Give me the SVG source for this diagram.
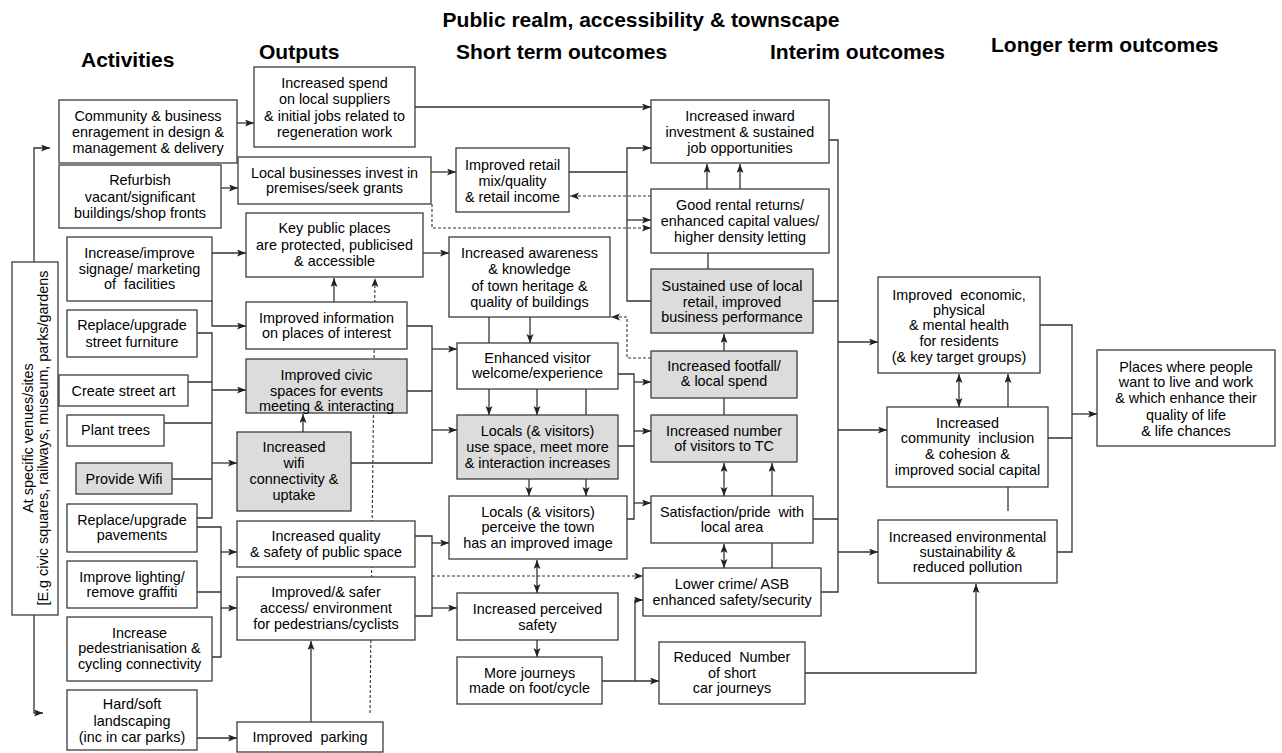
<svg xmlns="http://www.w3.org/2000/svg" width="1282" height="753" viewBox="0 0 1282 753">
<style>
  .bx{fill:#fff;stroke:#3c3c3c;stroke-width:1.3}
  .gr{fill:#dcdcdc;stroke:#3c3c3c;stroke-width:1.3}
  .t{font-family:"Liberation Sans",Arial,sans-serif;font-size:14.4px;text-anchor:middle;fill:#000}
  .h{font-family:"Liberation Sans",Arial,sans-serif;font-size:21px;font-weight:bold;fill:#000}
  .c{fill:none;stroke:#333;stroke-width:1.3}
  .a{marker-end:url(#ah)}
  .d2{marker-start:url(#ah);marker-end:url(#ah)}
  .ds{stroke-dasharray:3 2;stroke-width:1.1}
</style>
<defs>
  <marker id="ah" markerUnits="userSpaceOnUse" markerWidth="10" markerHeight="8" refX="9" refY="3.5" orient="auto-start-reverse">
    <path d="M0,0 L9,3.5 L0,7 L2,3.5 z" fill="#222"/>
  </marker>
</defs>
<rect width="1282" height="753" fill="#fff"/>

<!-- column headings -->
<g id="headings">
  <text class="h" x="641" y="27" text-anchor="middle">Public realm, accessibility &amp; townscape</text>
  <text class="h" x="81" y="67">Activities</text>
  <text class="h" x="259" y="59">Outputs</text>
  <text class="h" x="456" y="59">Short term outcomes</text>
  <text class="h" x="770" y="59">Interim outcomes</text>
  <text class="h" x="991" y="52">Longer term outcomes</text>
</g>

<!-- connectors -->
<g id="connectors">
  <!-- venue bracket -->
  <path class="c a" d="M34,262 V148 H50"/>
  <path class="c a" d="M34,615 V713 H43"/>
  <!-- activities to outputs -->
  <path class="c a" d="M237,123 H254"/>
  <path class="c a" d="M221,188 H238"/>
  <path class="c a" d="M212,253 H246"/>
  <path class="c a" d="M212,301 V326 H246"/>
  <path class="c" d="M197,333 H212 V518 H197"/>
  <path class="c" d="M188,382 H212 M164,423 H212 M172,479 H212"/>
  <path class="c a" d="M212,390 H246"/>
  <path class="c a" d="M212,463 H237"/>
  <path class="c" d="M197,527 H221 V657 H212 M197,592 H221"/>
  <path class="c a" d="M221,552 H237"/>
  <path class="c a" d="M221,608 H237"/>
  <path class="c a" d="M197,738 H237"/>
  <!-- within outputs -->
  <path class="c ds a" d="M370,713 L375,278"/>
  <path class="c a" d="M334,302 V278"/>
  <path class="c a" d="M303,432 V414"/>
  <path class="c a" d="M311,722 V641"/>
  <!-- outputs to short term / interim -->
  <path class="c a" d="M415,107 H651"/>
  <path class="c a" d="M431,172 H456"/>
  <path class="c ds a" d="M432,204 V228 H651"/>
  <path class="c a" d="M423,253 H449"/>
  <path class="c" d="M407,326 H432 V463 H351 M407,391 H432"/>
  <path class="c a" d="M432,349 H457"/>
  <path class="c a" d="M432,430 H457"/>
  <path class="c" d="M415,536 H432 V616 H415"/>
  <path class="c a" d="M432,543 H449"/>
  <path class="c a" d="M432,608 H457"/>
  <path class="c ds a" d="M432,576 H643"/>
  <!-- within short term -->
  <path class="c a" d="M530,317 V343"/>
  <path class="c" d="M489,317 V343"/>
  <path class="c a" d="M489,389 V415"/>
  <path class="c a" d="M537,389 V415"/>
  <path class="c" d="M586,389 V415"/>
  <path class="c a" d="M529,479 V496"/>
  <path class="c a" d="M586,479 V496"/>
  <path class="c d2" d="M537,560 V593"/>
  <path class="c a" d="M537,640 V657"/>
  <!-- short term to interim -->
  <path class="c" d="M569,172 H627"/>
  <path class="c a" d="M651,301 H627 V148 H651"/>
  <path class="c a" d="M627,220 H651"/>
  <path class="c ds a" d="M651,196 H570"/>
  <path class="c ds a" d="M651,358 H627 V317 H611"/>
  <path class="c" d="M618,374 H634 V519 H627 M618,446 H634"/>
  <path class="c a" d="M634,382 H651"/>
  <path class="c a" d="M634,431 H651"/>
  <path class="c a" d="M634,503 H651"/>
  <path class="c a" d="M602,681 H659"/>
  <path class="c a" d="M635,681 V600 H643"/>
  <!-- within interim -->
  <path class="c a" d="M707,189 V164"/>
  <path class="c a" d="M740,189 V164"/>
  <path class="c" d="M708,253 V269"/>
  <path class="c a" d="M724,351 V334"/>
  <path class="c" d="M724,398 V415"/>
  <path class="c d2" d="M724,463 V496"/>
  <path class="c a" d="M772,496 V463"/>
  <path class="c d2" d="M724,544 V568"/>
  <path class="c" d="M772,543 V568"/>
  <!-- interim to longer term -->
  <path class="c" d="M829,140 H838 V592 H821 M813,301 H838 M813,519 H838"/>
  <path class="c a" d="M838,342 H878"/>
  <path class="c a" d="M838,430 H887"/>
  <path class="c a" d="M838,552 H878"/>
  <path class="c a" d="M805,673 H976 V584"/>
  <!-- within longer term -->
  <path class="c d2" d="M959,374 V407"/>
  <path class="c a" d="M1008,407 V374"/>
  <path class="c" d="M1008,487 V511"/>
  <path class="c" d="M1040,325 H1072 V552 H1057 M1048,438 H1072"/>
  <path class="c a" d="M1072,414 H1097"/>
</g>

<!-- venue bracket box -->
<g id="venues">
  <rect class="bx" x="12" y="262" width="46" height="353"/>
  <text class="t" x="33" y="438" transform="rotate(-90 33 438)">At specific venues/sites</text>
  <text class="t" x="48" y="438" transform="rotate(-90 48 438)">[E.g civic squares, railways, museum, parks/gardens</text>
</g>

<!-- activities -->
<g id="act-community"><rect class="bx" x="59" y="100" width="178" height="63"/>
  <text class="t"><tspan x="148" y="121">Community &amp; business</tspan><tspan x="148" y="137">enragement in design &amp;</tspan><tspan x="148" y="153">management &amp; delivery</tspan></text></g>
<g id="act-refurbish"><rect class="bx" x="59" y="165" width="162" height="63"/>
  <text class="t"><tspan x="140" y="185">Refurbish</tspan><tspan x="140" y="202">vacant/significant</tspan><tspan x="140" y="218">buildings/shop fronts</tspan></text></g>
<g id="act-signage"><rect class="bx" x="67" y="237" width="145" height="64"/>
  <text class="t"><tspan x="139.5" y="258">Increase/improve</tspan><tspan x="139.5" y="274">signage/ marketing</tspan><tspan x="139.5" y="289">of&#160; facilities</tspan></text></g>
<g id="act-furniture"><rect class="bx" x="67" y="310" width="130" height="47"/>
  <text class="t"><tspan x="132" y="330">Replace/upgrade</tspan><tspan x="132" y="347">street furniture</tspan></text></g>
<g id="act-streetart"><rect class="bx" x="59" y="375" width="129" height="31"/>
  <text class="t" x="123.5" y="396">Create street art</text></g>
<g id="act-trees"><rect class="bx" x="67" y="415" width="97" height="31"/>
  <text class="t" x="115.5" y="435">Plant trees</text></g>
<g id="act-wifi"><rect class="gr" x="76" y="463" width="96" height="31"/>
  <text class="t" x="124" y="484">Provide Wifi</text></g>
<g id="act-pavements"><rect class="bx" x="67" y="504" width="130" height="48"/>
  <text class="t"><tspan x="132" y="525">Replace/upgrade</tspan><tspan x="132" y="540">pavements</tspan></text></g>
<g id="act-lighting"><rect class="bx" x="67" y="561" width="130" height="47"/>
  <text class="t"><tspan x="132" y="582">Improve lighting/</tspan><tspan x="132" y="597">remove graffiti</tspan></text></g>
<g id="act-pedestrian"><rect class="bx" x="67" y="617" width="145" height="64"/>
  <text class="t"><tspan x="139.5" y="638">Increase</tspan><tspan x="139.5" y="653">pedestrianisation &amp;</tspan><tspan x="139.5" y="669">cycling connectivity</tspan></text></g>
<g id="act-landscaping"><rect class="bx" x="67" y="690" width="130" height="60"/>
  <text class="t"><tspan x="132" y="709">Hard/soft</tspan><tspan x="132" y="726">landscaping</tspan><tspan x="132" y="742">(inc in car parks)</tspan></text></g>

<!-- outputs -->
<g id="out-spend"><rect class="bx" x="254" y="67" width="161" height="80"/>
  <text class="t"><tspan x="334.5" y="88">Increased spend</tspan><tspan x="334.5" y="104">on local suppliers</tspan><tspan x="334.5" y="121">&amp; initial jobs related to</tspan><tspan x="334.5" y="137">regeneration work</tspan></text></g>
<g id="out-invest"><rect class="bx" x="238" y="157" width="193" height="47"/>
  <text class="t"><tspan x="334.5" y="178">Local businesses invest in</tspan><tspan x="334.5" y="193">premises/seek grants</tspan></text></g>
<g id="out-keyplaces"><rect class="bx" x="246" y="213" width="177" height="64"/>
  <text class="t"><tspan x="334.5" y="233">Key public places</tspan><tspan x="334.5" y="250">are protected, publicised</tspan><tspan x="334.5" y="266">&amp; accessible</tspan></text></g>
<g id="out-info"><rect class="bx" x="246" y="302" width="161" height="47"/>
  <text class="t"><tspan x="326.5" y="323">Improved information</tspan><tspan x="326.5" y="338">on places of interest</tspan></text></g>
<g id="out-civic"><rect class="gr" x="246" y="359" width="161" height="54"/>
  <text class="t"><tspan x="326.5" y="380">Improved civic</tspan><tspan x="326.5" y="396">spaces for events</tspan><tspan x="326.5" y="411">meeting &amp; interacting</tspan></text></g>
<g id="out-wifi"><rect class="gr" x="237" y="432" width="114" height="79"/>
  <text class="t"><tspan x="294" y="452">Increased</tspan><tspan x="294" y="468">wifi</tspan><tspan x="294" y="484">connectivity &amp;</tspan><tspan x="294" y="500">uptake</tspan></text></g>
<g id="out-quality"><rect class="bx" x="237" y="521" width="178" height="46"/>
  <text class="t"><tspan x="326" y="541">Increased quality</tspan><tspan x="326" y="557">&amp; safety of public space</tspan></text></g>
<g id="out-access"><rect class="bx" x="237" y="577" width="178" height="63"/>
  <text class="t"><tspan x="326" y="597">Improved/&amp; safer</tspan><tspan x="326" y="613">access/ environment</tspan><tspan x="326" y="629">for pedestrians/cyclists</tspan></text></g>
<g id="out-parking"><rect class="bx" x="237" y="722" width="146" height="30"/>
  <text class="t" x="310" y="742">Improved&#160; parking</text></g>

<!-- short term outcomes -->
<g id="st-retail"><rect class="bx" x="456" y="148" width="113" height="64"/>
  <text class="t"><tspan x="512.5" y="170">Improved retail</tspan><tspan x="512.5" y="186">mix/quality</tspan><tspan x="512.5" y="202">&amp; retail income</tspan></text></g>
<g id="st-awareness"><rect class="bx" x="449" y="237" width="161" height="80"/>
  <text class="t"><tspan x="529.5" y="258">Increased awareness</tspan><tspan x="529.5" y="274">&amp; knowledge</tspan><tspan x="529.5" y="291">of town heritage &amp;</tspan><tspan x="529.5" y="307">quality of buildings</tspan></text></g>
<g id="st-welcome"><rect class="bx" x="457" y="343" width="161" height="46"/>
  <text class="t"><tspan x="537.5" y="363">Enhanced visitor</tspan><tspan x="537.5" y="378">welcome/experience</tspan></text></g>
<g id="st-usespace"><rect class="gr" x="457" y="415" width="161" height="64"/>
  <text class="t"><tspan x="537.5" y="436">Locals (&amp; visitors)</tspan><tspan x="537.5" y="452">use space, meet more</tspan><tspan x="537.5" y="468">&amp; interaction increases</tspan></text></g>
<g id="st-image"><rect class="bx" x="449" y="496" width="178" height="63"/>
  <text class="t"><tspan x="538" y="517">Locals (&amp; visitors)</tspan><tspan x="538" y="532">perceive the town</tspan><tspan x="538" y="548">has an improved image</tspan></text></g>
<g id="st-safety"><rect class="bx" x="457" y="593" width="161" height="47"/>
  <text class="t"><tspan x="537.5" y="614">Increased perceived</tspan><tspan x="537.5" y="630">safety</tspan></text></g>
<g id="st-journeys"><rect class="bx" x="457" y="657" width="145" height="47"/>
  <text class="t"><tspan x="529.5" y="678">More journeys</tspan><tspan x="529.5" y="693">made on foot/cycle</tspan></text></g>

<!-- interim outcomes -->
<g id="im-inward"><rect class="bx" x="651" y="100" width="178" height="63"/>
  <text class="t"><tspan x="740" y="121">Increased inward</tspan><tspan x="740" y="137">investment &amp; sustained</tspan><tspan x="740" y="153">job opportunities</tspan></text></g>
<g id="im-rental"><rect class="bx" x="651" y="189" width="178" height="64"/>
  <text class="t"><tspan x="740" y="210">Good rental returns/</tspan><tspan x="740" y="226">enhanced capital values/</tspan><tspan x="740" y="242">higher density letting</tspan></text></g>
<g id="im-retail"><rect class="gr" x="651" y="269" width="162" height="64"/>
  <text class="t"><tspan x="732" y="291">Sustained use of local</tspan><tspan x="732" y="307">retail, improved</tspan><tspan x="732" y="322">business performance</tspan></text></g>
<g id="im-footfall"><rect class="gr" x="651" y="351" width="146" height="47"/>
  <text class="t"><tspan x="724" y="371">Increased footfall/</tspan><tspan x="724" y="386">&amp; local spend</tspan></text></g>
<g id="im-visitors"><rect class="gr" x="651" y="415" width="146" height="47"/>
  <text class="t"><tspan x="724" y="436">Increased number</tspan><tspan x="724" y="451">of visitors to TC</tspan></text></g>
<g id="im-pride"><rect class="bx" x="651" y="496" width="162" height="47"/>
  <text class="t"><tspan x="732" y="517">Satisfaction/pride&#160; with</tspan><tspan x="732" y="532">local area</tspan></text></g>
<g id="im-crime"><rect class="bx" x="643" y="568" width="178" height="48"/>
  <text class="t"><tspan x="732" y="589">Lower crime/ ASB</tspan><tspan x="732" y="605">enhanced safety/security</tspan></text></g>
<g id="im-car"><rect class="bx" x="659" y="642" width="146" height="62"/>
  <text class="t"><tspan x="732" y="662">Reduced&#160; Number</tspan><tspan x="732" y="678">of short</tspan><tspan x="732" y="693">car journeys</tspan></text></g>

<!-- longer term outcomes -->
<g id="lt-health"><rect class="bx" x="878" y="277" width="162" height="96"/>
  <text class="t"><tspan x="959" y="300">Improved&#160; economic,</tspan><tspan x="959" y="315">physical</tspan><tspan x="959" y="330">&amp; mental health</tspan><tspan x="959" y="346">for residents</tspan><tspan x="959" y="362">(&amp; key target groups)</tspan></text></g>
<g id="lt-community"><rect class="bx" x="887" y="407" width="161" height="80"/>
  <text class="t"><tspan x="967.5" y="428">Increased</tspan><tspan x="967.5" y="443">community&#160; inclusion</tspan><tspan x="967.5" y="459">&amp; cohesion &amp;</tspan><tspan x="967.5" y="475">improved social capital</tspan></text></g>
<g id="lt-environment"><rect class="bx" x="878" y="520" width="179" height="63"/>
  <text class="t"><tspan x="967.5" y="542">Increased environmental</tspan><tspan x="967.5" y="557">sustainability &amp;</tspan><tspan x="967.5" y="572">reduced pollution</tspan></text></g>
<g id="lt-places"><rect class="bx" x="1097" y="350" width="178" height="96"/>
  <text class="t"><tspan x="1186" y="372">Places where people</tspan><tspan x="1186" y="387">want to live and work</tspan><tspan x="1186" y="403">&amp; which enhance their</tspan><tspan x="1186" y="420">quality of life</tspan><tspan x="1186" y="436">&amp; life chances</tspan></text></g>
</svg>
